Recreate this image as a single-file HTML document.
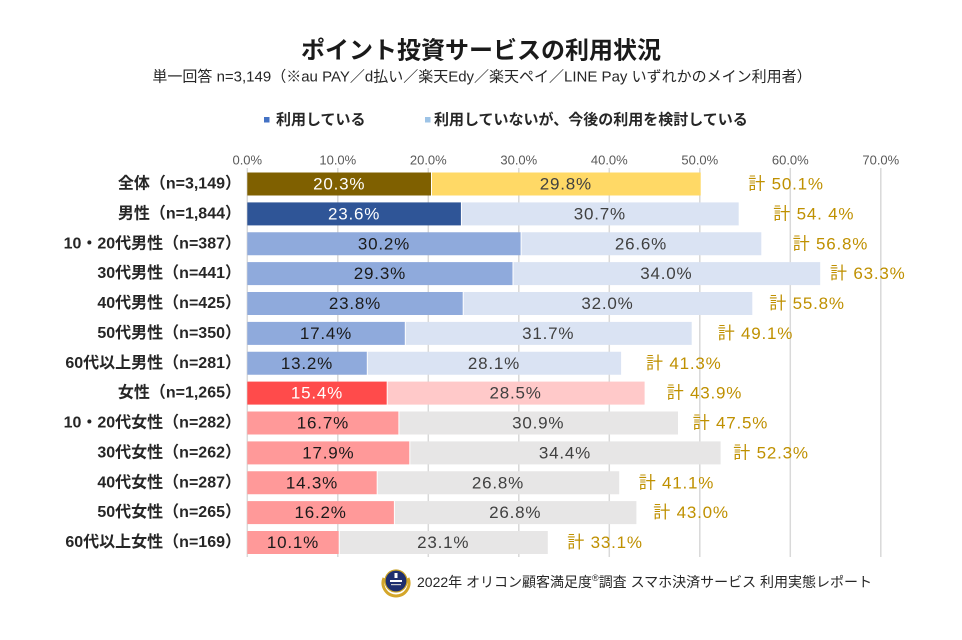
<!DOCTYPE html>
<html><head><meta charset="utf-8"><style>
html,body{margin:0;padding:0;background:#fff;}
svg{display:block;}
text{font-family:"Liberation Sans","Noto Sans CJK JP",sans-serif;}
</style></head><body>
<svg width="962" height="640" viewBox="0 0 962 640" xmlns="http://www.w3.org/2000/svg">
<rect width="962" height="640" fill="#fff"/>
<!-- Title -->
<text x="481" y="51" font-size="24" font-weight="bold" fill="#1a1a1a" text-anchor="middle" dominant-baseline="central">ポイント投資サービスの利用状況</text>
<text x="482" y="77" font-size="15" fill="#262626" text-anchor="middle" dominant-baseline="central">単一回答  n=3,149（※au PAY／d払い／楽天Edy／楽天ペイ／LINE Pay いずれかのメイン利用者）</text>
<!-- Legend -->
<rect x="264" y="117" width="5.5" height="5.5" fill="#4472c4"/>
<text x="276" y="120" font-size="15" font-weight="bold" fill="#262626" dominant-baseline="central">利用している</text>
<rect x="425" y="117" width="5.5" height="5.5" fill="#9dc3e6"/>
<text x="434" y="120" font-size="15" font-weight="bold" fill="#262626" dominant-baseline="central">利用していないが、今後の利用を検討している</text>
<!-- Axis labels -->
<g font-size="13" fill="#595959" text-anchor="middle">
<text x="247.3" y="164.5">0.0%</text>
<text x="337.8" y="164.5">10.0%</text>
<text x="428.3" y="164.5">20.0%</text>
<text x="518.8" y="164.5">30.0%</text>
<text x="609.3" y="164.5">40.0%</text>
<text x="699.8" y="164.5">50.0%</text>
<text x="790.3" y="164.5">60.0%</text>
<text x="880.8" y="164.5">70.0%</text>
</g>
<!-- Gridlines -->
<g stroke="#d9d9d9" stroke-width="1.5">
<line x1="247.3" y1="168" x2="247.3" y2="557"/>
<line x1="337.8" y1="168" x2="337.8" y2="557"/>
<line x1="428.3" y1="168" x2="428.3" y2="557"/>
<line x1="518.8" y1="168" x2="518.8" y2="557"/>
<line x1="609.3" y1="168" x2="609.3" y2="557"/>
<line x1="699.8" y1="168" x2="699.8" y2="557"/>
<line x1="790.3" y1="168" x2="790.3" y2="557"/>
<line x1="880.8" y1="168" x2="880.8" y2="557"/>
</g>
<!-- Bars -->
<g>
<rect x="247.3" y="172.5" width="183.7" height="23" fill="#7f6000"/><rect x="432" y="172.5" width="268.7" height="23" fill="#ffd966"/>
<rect x="247.3" y="202.4" width="213.6" height="23" fill="#2f5597"/><rect x="461.9" y="202.4" width="276.8" height="23" fill="#dae3f3"/>
<rect x="247.3" y="232.25" width="273.3" height="23" fill="#8faadc"/><rect x="521.6" y="232.25" width="239.7" height="23" fill="#dae3f3"/>
<rect x="247.3" y="262.1" width="265.2" height="23" fill="#8faadc"/><rect x="513.5" y="262.1" width="306.7" height="23" fill="#dae3f3"/>
<rect x="247.3" y="292" width="215.4" height="23" fill="#8faadc"/><rect x="463.7" y="292" width="288.6" height="23" fill="#dae3f3"/>
<rect x="247.3" y="321.9" width="157.5" height="23" fill="#8faadc"/><rect x="405.8" y="321.9" width="285.9" height="23" fill="#dae3f3"/>
<rect x="247.3" y="351.75" width="119.5" height="23" fill="#8faadc"/><rect x="367.8" y="351.75" width="253.3" height="23" fill="#dae3f3"/>
<rect x="247.3" y="381.6" width="139.4" height="23" fill="#ff4b4b"/><rect x="387.7" y="381.6" width="256.9" height="23" fill="#ffc9c9"/>
<rect x="247.3" y="411.5" width="151.1" height="23" fill="#ff9999"/><rect x="399.4" y="411.5" width="278.6" height="23" fill="#e7e6e6"/>
<rect x="247.3" y="441.4" width="162" height="23" fill="#ff9999"/><rect x="410.3" y="441.4" width="310.3" height="23" fill="#e7e6e6"/>
<rect x="247.3" y="471.25" width="129.4" height="23" fill="#ff9999"/><rect x="377.7" y="471.25" width="241.5" height="23" fill="#e7e6e6"/>
<rect x="247.3" y="501.1" width="146.6" height="23" fill="#ff9999"/><rect x="394.9" y="501.1" width="241.5" height="23" fill="#e7e6e6"/>
<rect x="247.3" y="531" width="91.4" height="23" fill="#ff9999"/><rect x="339.7" y="531" width="208.1" height="23" fill="#e7e6e6"/>
</g>
<!-- Row labels -->
<g font-size="16" font-weight="bold" fill="#262626" text-anchor="end" dominant-baseline="central">
<text x="241" y="184">全体（n=3,149）</text>
<text x="241" y="213.9">男性（n=1,844）</text>
<text x="241" y="243.75">10・20代男性（n=387）</text>
<text x="241" y="273.6">30代男性（n=441）</text>
<text x="241" y="303.5">40代男性（n=425）</text>
<text x="241" y="333.4">50代男性（n=350）</text>
<text x="241" y="363.25">60代以上男性（n=281）</text>
<text x="241" y="393.1">女性（n=1,265）</text>
<text x="241" y="423">10・20代女性（n=282）</text>
<text x="241" y="452.9">30代女性（n=262）</text>
<text x="241" y="482.75">40代女性（n=287）</text>
<text x="241" y="512.6">50代女性（n=265）</text>
<text x="241" y="542.5">60代以上女性（n=169）</text>
</g>
<!-- Values in bars -->
<g font-size="17" letter-spacing="0.8" text-anchor="middle" dominant-baseline="central">
<text x="339.2" y="184" fill="#ffffff">20.3%</text><text x="565.8" y="184" fill="#404040">29.8%</text>
<text x="354.1" y="213.9" fill="#ffffff">23.6%</text><text x="599.8" y="213.9" fill="#404040">30.7%</text>
<text x="384" y="243.75" fill="#1a1a1a">30.2%</text><text x="641" y="243.75" fill="#404040">26.6%</text>
<text x="379.9" y="273.6" fill="#1a1a1a">29.3%</text><text x="666.3" y="273.6" fill="#404040">34.0%</text>
<text x="355" y="303.5" fill="#1a1a1a">23.8%</text><text x="607.5" y="303.5" fill="#404040">32.0%</text>
<text x="326" y="333.4" fill="#1a1a1a">17.4%</text><text x="548.2" y="333.4" fill="#404040">31.7%</text>
<text x="307" y="363.25" fill="#1a1a1a">13.2%</text><text x="494" y="363.25" fill="#404040">28.1%</text>
<text x="317" y="393.1" fill="#ffffff">15.4%</text><text x="515.6" y="393.1" fill="#404040">28.5%</text>
<text x="322.9" y="423" fill="#1a1a1a">16.7%</text><text x="538.2" y="423" fill="#404040">30.9%</text>
<text x="328.3" y="452.9" fill="#1a1a1a">17.9%</text><text x="565" y="452.9" fill="#404040">34.4%</text>
<text x="312" y="482.75" fill="#1a1a1a">14.3%</text><text x="498" y="482.75" fill="#404040">26.8%</text>
<text x="320.6" y="512.6" fill="#1a1a1a">16.2%</text><text x="515.2" y="512.6" fill="#404040">26.8%</text>
<text x="293" y="542.5" fill="#1a1a1a">10.1%</text><text x="443.2" y="542.5" fill="#404040">23.1%</text>
</g>
<!-- Totals -->
<g font-size="17" letter-spacing="0.8" fill="#bf9000" dominant-baseline="central">
<text x="748.3" y="184">計 50.1%</text>
<text x="773.3" y="213.9">計 54. 4%</text>
<text x="792.7" y="243.75">計 56.8%</text>
<text x="830" y="273.6">計 63.3%</text>
<text x="769.3" y="303.5">計 55.8%</text>
<text x="717.7" y="333.4">計 49.1%</text>
<text x="646" y="363.25">計 41.3%</text>
<text x="666.7" y="393.1">計 43.9%</text>
<text x="692.7" y="423">計 47.5%</text>
<text x="733.3" y="452.9">計 52.3%</text>
<text x="638.7" y="482.75">計 41.1%</text>
<text x="653.3" y="512.6">計 43.0%</text>
<text x="567.3" y="542.5">計 33.1%</text>
</g>
<!-- Footer logo -->
<g>
<path d="M384 578 A13 13 0 0 0 396 596 A13 13 0 0 0 408 578" fill="none" stroke="#d4a62a" stroke-width="3"/>
<circle cx="396" cy="581" r="11" fill="#1f2f6e" stroke="#c9a227" stroke-width="1.2"/>
<rect x="394.5" y="573" width="3" height="5" fill="#ffffff"/>
<rect x="390" y="580" width="12" height="2" fill="#ffffff"/>
<rect x="391" y="584" width="10" height="1.2" fill="#cccccc"/>
</g>
<text x="417" y="582" font-size="14" fill="#262626" dominant-baseline="central">2022年 オリコン顧客満足度<tspan font-size="9" dy="-4">®</tspan><tspan dy="4">調査 スマホ決済サービス 利用実態レポート</tspan></text>
</svg>
</body></html>
